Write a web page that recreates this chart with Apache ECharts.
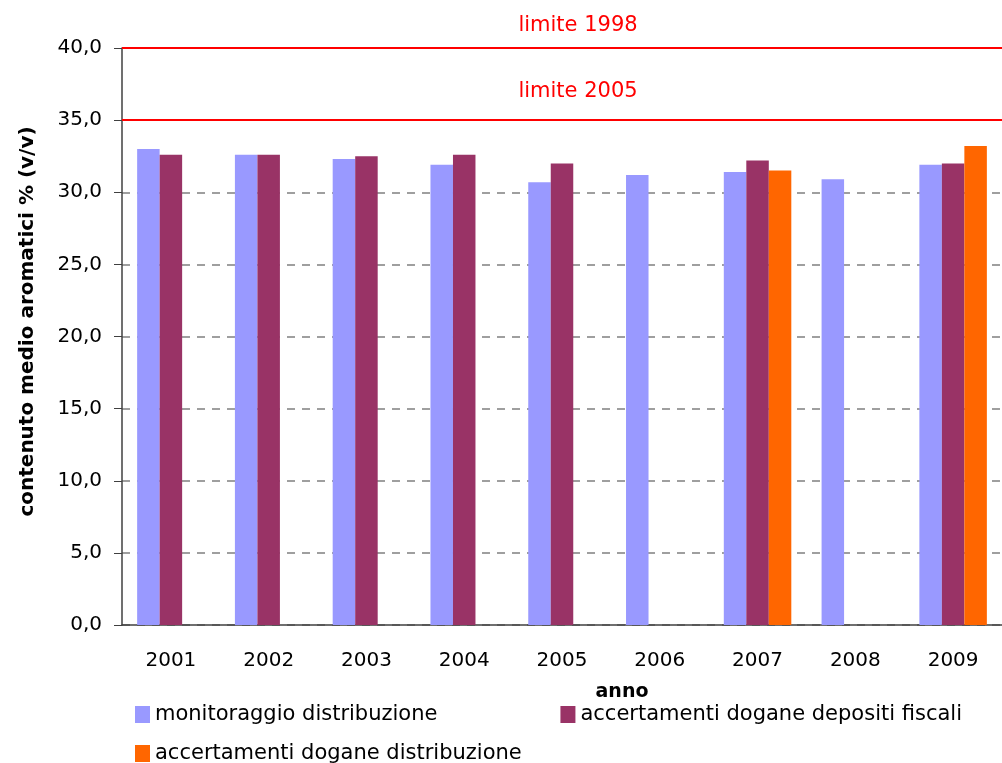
<!DOCTYPE html>
<html>
<head>
<meta charset="utf-8">
<script src="https://cdn.jsdelivr.net/npm/echarts@6/dist/echarts.min.js"></script>
<style>
  html, body { margin: 0; padding: 0; background: #fff; }
  #main { width: 1002px; height: 763px; }
</style>
</head>
<body>
<div id="main"></div>
<script>
// data
const years = ['2001', '2002', '2003', '2004', '2005', '2006', '2007', '2008', '2009'];
const monitoraggio = [33.0, 32.6, 32.3, 31.9, 30.7, 31.2, 31.4, 30.9, 31.9];
const depositiFiscali = [32.6, 32.6, 32.5, 32.6, 32.0, null, 32.2, null, 32.0];
const doganeDistribuzione = [null, null, null, null, null, null, 31.5, null, 33.2];
const limiti = [
    {name: 'limite 1998', value: 40},
    {name: 'limite 2005', value: 35}
];
const seriesNames = ['monitoraggio distribuzione', 'accertamenti dogane depositi fiscali', 'accertamenti dogane distribuzione'];

const font = 'DejaVu Sans';
const fmt = v => v.toFixed(1).replace('.', ',');

let myChart = echarts.init(document.getElementById('main'));

let option = {
    animation: false,
    textStyle: {fontFamily: font},
    grid: {left: 122, top: 48, width: 882, bottom: 138},
    legend: [
        {
            data: [seriesNames[0], seriesNames[1]],
            left: 130, top: 699,
            itemWidth: 15, itemHeight: 17, itemGap: 123,
            icon: 'rect',
            textStyle: {fontSize: 21, color: '#000', fontFamily: font}
        },
        {
            data: [seriesNames[2]],
            left: 130, top: 738,
            itemWidth: 15, itemHeight: 17,
            icon: 'rect',
            textStyle: {fontSize: 21, color: '#000', fontFamily: font}
        }
    ],
    xAxis: {
        type: 'category',
        data: years,
        name: 'anno',
        nameLocation: 'middle',
        nameGap: 58,
        nameTextStyle: {fontSize: 19, fontWeight: 'bold', color: '#000', padding: [0, 0, 0, 120]},
        axisLine: {lineStyle: {color: '#404040', width: 1.5}},
        axisTick: {length: 8, lineStyle: {color: '#404040'}},
        axisLabel: {fontSize: 20, color: '#000', margin: 26}
    },
    yAxis: {
        type: 'value',
        min: 0, max: 40, interval: 5,
        name: 'contenuto medio aromatici % (v/v)',
        nameLocation: 'middle',
        nameGap: 84,
        nameTextStyle: {fontSize: 20, fontWeight: 'bold', color: '#000', padding: [0, 0, 0, 30]},
        axisLine: {show: true, lineStyle: {color: '#404040', width: 1.5}},
        axisTick: {show: true, length: 8, lineStyle: {color: '#404040'}},
        axisLabel: {fontSize: 20, color: '#000', margin: 20, formatter: fmt},
        splitLine: {lineStyle: {color: '#808080', type: [8, 7], width: 1.5}}
    },
    series: [
        {
            name: seriesNames[0],
            type: 'bar',
            data: monitoraggio,
            barWidth: 22.5,
            barGap: '0%',
            itemStyle: {color: '#9999FF'},
            markLine: {
                silent: true,
                symbol: 'none',
                lineStyle: {color: '#FF0000', width: 2, type: 'solid'},
                data: [
                    {yAxis: limiti[0].value, name: limiti[0].name,
                        label: {distance: 12}},
                    {yAxis: limiti[1].value, name: limiti[1].name,
                        label: {distance: 18}}
                ],
                label: {
                    position: 'insideMiddleTop',
                    formatter: '{b}',
                    color: '#FF0000',
                    fontSize: 21,
                    fontFamily: font,
                    padding: [0, 0, 0, 32]
                }
            }
        },
        {
            name: seriesNames[1],
            type: 'bar',
            data: depositiFiscali,
            barWidth: 22.5,
            barGap: '0%',
            itemStyle: {color: '#993366'}
        },
        {
            name: seriesNames[2],
            type: 'bar',
            data: doganeDistribuzione,
            barWidth: 22.5,
            barGap: '0%',
            itemStyle: {color: '#FF6600'}
        }
    ]
};
myChart.setOption(option);
</script>
</body>
</html>
